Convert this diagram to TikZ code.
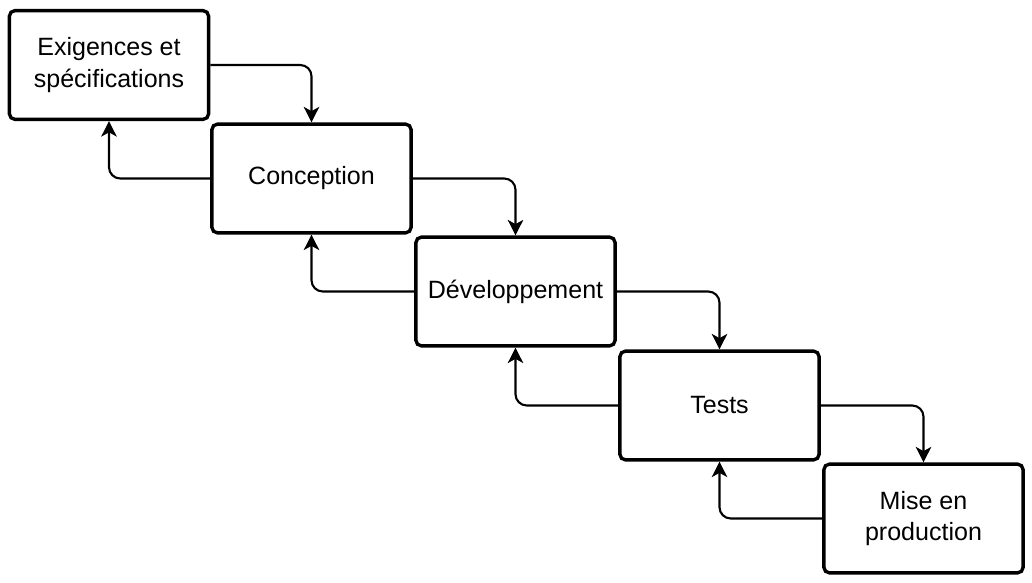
\documentclass[tikz,border=0pt]{standalone}
\usepackage{fontspec}
\setmainfont{Liberation Sans}
\usetikzlibrary{arrows.meta}

\begin{document}
\begin{tikzpicture}[
    x=0.025cm, y=-0.025cm,
    phase/.style={rectangle, draw=black, line width=2.4pt, rounded corners=4pt, minimum width=4.98cm, minimum height=2.72cm, align=center, font=\fontsize{17.8}{22.5}\selectfont, inner sep=0pt},
    arrow/.style={line width=1.5pt, rounded corners=8pt, -{Stealth[length=11pt, width=11pt, inset=3pt]}}
]
\useasboundingbox (0,0) rectangle (1032,583);

% ===== PHASES =====
\node[phase] (exig) at (109, 65) {Exigences et\\spécifications};
\node[phase] (conc) at (311.5, 178.5) {Conception};
\node[phase] (dev) at (515.5, 291.5) {Développement};
\node[phase] (tests) at (719.5, 405.5) {Tests};
\node[phase] (prod) at (923.5, 518.5) {Mise en\\production};

% ===== FORWARD =====
\draw[arrow] (exig.east) -| (conc.north);
\draw[arrow] (conc.east) -| (dev.north);
\draw[arrow] (dev.east) -| (tests.north);
\draw[arrow] (tests.east) -| (prod.north);

% ===== BACKWARD =====
\draw[arrow] (conc.west) -| (exig.south);
\draw[arrow] (dev.west) -| (conc.south);
\draw[arrow] (tests.west) -| (dev.south);
\draw[arrow] (prod.west) -| (tests.south);

\end{tikzpicture}
\end{document}
